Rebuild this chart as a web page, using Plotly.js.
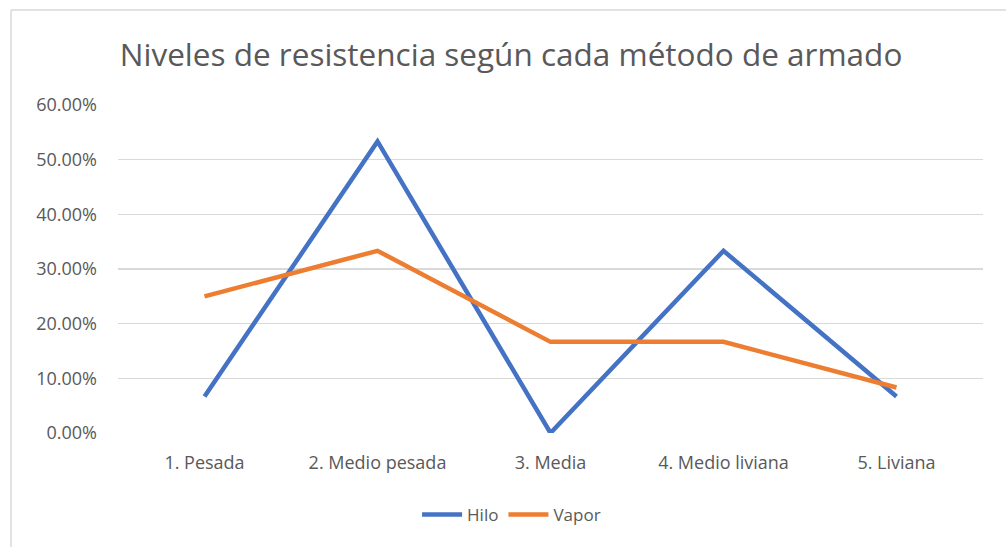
<!DOCTYPE html>
<html><head><meta charset="utf-8">
<script src="https://cdn.plot.ly/plotly-3.0.1.min.js"></script>
<style>html,body{margin:0;padding:0;background:#fff;}</style>
</head><body>
<div id="chart" style="width:1006px;height:547px;"></div>
<script>
const categories = ["1. Pesada", "2. Medio pesada", "3. Media", "4. Medio liviana", "5. Liviana"];
const hilo = [0.0667, 0.5333, 0.0, 0.3333, 0.0667];
const vapor = [0.25, 0.3333, 0.1667, 0.1667, 0.0833];
const yTicks = [0, 0.1, 0.2, 0.3, 0.4, 0.5, 0.6];

const font = "Open Sans, Lato, sans-serif";
const traces = [
  {x: categories, y: hilo, name: "Hilo", type: "scatter", mode: "lines",
   line: {color: "#4472C4", width: 4.5}},
  {x: categories, y: vapor, name: "Vapor", type: "scatter", mode: "lines",
   line: {color: "#ED7D31", width: 4.5}}
];
const layout = {
  width: 1006, height: 547,
  margin: {l: 118, r: 23, t: 105, b: 114},
  paper_bgcolor: "#fff", plot_bgcolor: "#fff",
  font: {family: font, color: "#595959", size: 16},
  title: {text: "Niveles de resistencia según cada método de armado",
          font: {family: font, size: 31.5, color: "#595959"},
          x: 0.508, xanchor: "center", y: 0.9, yanchor: "middle"},
  xaxis: {type: "category", range: [-0.5, 4.5], showgrid: false, zeroline: false, showline: false,
          ticks: "", ticklabelstandoff: 17, tickfont: {size: 18, color: "#595959"}},
  yaxis: {range: [0, 0.6], tickvals: yTicks, tickformat: ".2%",
          showgrid: true, gridcolor: "#d9d9d9", gridwidth: 1.5, zeroline: false,
          showline: false, ticks: "", ticklabelstandoff: 20,
          tickfont: {size: 18, color: "#595959"}},
  showlegend: true,
  legend: {orientation: "h", x: 0.455, xanchor: "center", y: -0.25, yanchor: "middle",
           font: {size: 17, color: "#595959"}, itemwidth: 40, tracegroupgap: 0},
  shapes: [
    {type: "line", xref: "paper", yref: "paper", x0: -0.1237, x1: -0.1237, y0: 1.2896, y1: -0.4,
     line: {color: "#d9d9d9", width: 1.5}},
    {type: "line", xref: "paper", yref: "paper", x0: -0.1237, x1: 1.03, y0: 1.2896, y1: 1.2896,
     line: {color: "#d9d9d9", width: 1.5}}
  ]
};
Plotly.newPlot("chart", traces, layout, {displayModeBar: false, staticPlot: true});
</script>
</body></html>
